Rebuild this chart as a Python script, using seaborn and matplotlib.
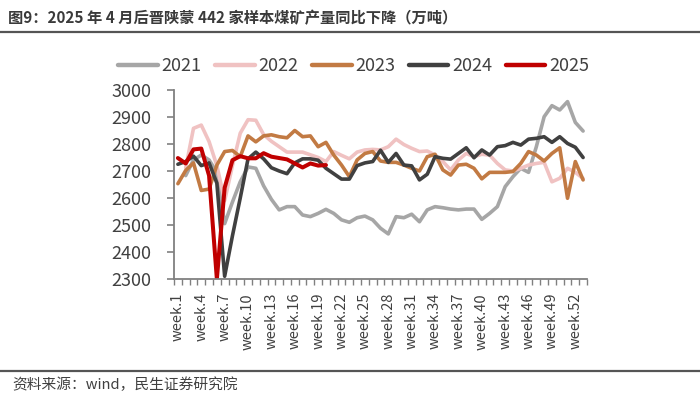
import numpy as np
import pandas as pd
import seaborn as sns
import matplotlib
matplotlib.use("Agg")
import matplotlib.pyplot as plt
from matplotlib.lines import Line2D

nan = np.nan
weeks = list(range(1, 54))
week_labels = [f"week.{w}" for w in range(1, 53, 3)]
label_weeks = list(range(1, 53, 3))

y2021 = [nan, 2683, 2741, 2759, 2741, 2695, 2505, 2585, 2660, 2715,
         2710, 2645, 2595, 2556, 2568, 2568, 2537, 2531, 2543, 2558,
         2543, 2519, 2510, 2527, 2533, 2519, 2488, 2467, 2531, 2527,
         2540, 2512, 2556, 2568, 2564, 2559, 2556, 2559, 2559, 2521,
         2543, 2568, 2642, 2679, 2710, 2695, 2790, 2901, 2942, 2926,
         2957, 2880, 2848]
y2022 = [nan, 2712, 2858, 2870, 2809, 2720, 2590, 2720, 2840, 2890,
         2888, 2835, 2810, 2790, 2770, 2770, 2770, 2760, 2750, 2735,
         2772, 2758, 2745, 2770, 2778, 2780, 2778, 2790, 2818, 2798,
         2784, 2772, 2774, 2759, 2735, 2704, 2741, 2765, 2753, 2762,
         2759, 2728, 2704, 2700, 2710, 2722, 2728, 2732, 2660, 2673,
         2710, 2695, 2672]
y2023 = [2653, 2702, 2730, 2628, 2633, 2722, 2772, 2776, 2753, 2830,
         2808, 2830, 2834, 2827, 2823, 2850, 2827, 2830, 2790, 2806,
         2759, 2722, 2679, 2741, 2765, 2772, 2737, 2732, 2732, 2722,
         2710, 2700, 2753, 2762, 2704, 2685, 2722, 2725, 2710, 2671,
         2695, 2695, 2695, 2698, 2728, 2772, 2759, 2737, 2765, 2786,
         2599, 2735, 2667]
y2024 = [2725, 2735, 2755, 2720, 2730, 2655, 2310, 2460, 2600, 2745,
         2770, 2745, 2712, 2700, 2690, 2730, 2745, 2745, 2740, 2710,
         2690, 2670, 2670, 2720, 2730, 2735, 2777, 2732, 2765, 2722,
         2719, 2667, 2688, 2753, 2747, 2744, 2765, 2786, 2749, 2778,
         2759, 2790, 2794, 2806, 2796, 2818, 2821, 2827, 2806, 2827,
         2802, 2788, 2750]
y2025 = [2748, 2728, 2780, 2783, 2683, 2300, 2638, 2740, 2755, 2747,
         2747, 2766, 2753, 2748, 2743, 2728, 2713, 2728, 2720, 2722] + [nan] * 33

years = ["2021", "2022", "2023", "2024", "2025"]
series = [y2021, y2022, y2023, y2024, y2025]
colors = {"2021": "#A6A6A6", "2022": "#F0C2C2", "2023": "#C27A43",
          "2024": "#404040", "2025": "#C00000"}
widths = {"2021": 2.6, "2022": 2.6, "2023": 2.6, "2024": 2.6, "2025": 2.9}

frames = []
for yr, vals in zip(years, series):
    frames.append(pd.DataFrame({"week": weeks, "value": vals, "year": yr}))
df = pd.concat(frames, ignore_index=True).dropna()

sns.set_theme(style="white")
plt.rcParams["font.family"] = ["Noto Sans CJK SC", "DejaVu Sans"]

fig = plt.figure(figsize=(7.0, 3.99), dpi=100)
ax = fig.add_axes([174 / 700, 1 - 279 / 399, (587 - 174) / 700, 189 / 399])

for yr in years:
    sub = df[df["year"] == yr]
    sns.lineplot(data=sub, x="week", y="value", color=colors[yr],
                 linewidth=widths[yr], estimator=None, sort=False,
                 ax=ax, legend=False)

ax.set_xlim(0.5, 53.5)
ax.set_ylim(2300, 3000)
ax.set_yticks(range(2300, 3001, 100))
ax.set_xticks(label_weeks)
ax.set_xticklabels(week_labels, rotation=90)
ax.set_xticks(np.arange(0.5, 54.0, 1.0), minor=True)
ax.set_xlabel("")
ax.set_ylabel("")

for s in ["top", "right"]:
    ax.spines[s].set_visible(False)
for s in ["left", "bottom"]:
    ax.spines[s].set_color("#808080")
    ax.spines[s].set_linewidth(1.3)

ax.tick_params(axis="y", which="major", direction="out", length=5, width=1.2,
               color="#808080", left=True, labelsize=13, labelcolor="#404040", pad=11)
ax.tick_params(axis="x", which="major", length=0, labelsize=10.5,
               labelcolor="#404040", pad=10)
ax.tick_params(axis="x", which="minor", direction="out", length=4, width=1.0,
               color="#808080", bottom=True)

handles = [Line2D([0], [0], color=colors[y], linewidth=3.2, solid_capstyle="round")
           for y in years]
fig.legend(handles, years, loc="center", bbox_to_anchor=(0.505, 1 - 66 / 399),
           ncol=5, frameon=False, fontsize=13, handlelength=2.2,
           handletextpad=0.2, columnspacing=0.75, labelcolor="#404040")

fig.text(8 / 700, 1 - 18 / 399,
         "图9：2025 年 4 月后晋陕蒙 442 家样本煤矿产量同比下降（万吨）",
         fontsize=11, fontweight="bold", color="#3a3a3a", va="center", ha="left")
fig.text(12 / 700, 1 - 385 / 399, "资料来源：wind，民生证券研究院",
         fontsize=10.6, color="#404040", va="center", ha="left")

fig.add_artist(Line2D([0, 1], [1 - 32 / 399, 1 - 32 / 399], color="#555555",
                      linewidth=1.6, transform=fig.transFigure))
fig.add_artist(Line2D([0, 1], [1 - 371 / 399, 1 - 371 / 399], color="#555555",
                      linewidth=1.6, transform=fig.transFigure))

fig.savefig("out.png", dpi=100)
